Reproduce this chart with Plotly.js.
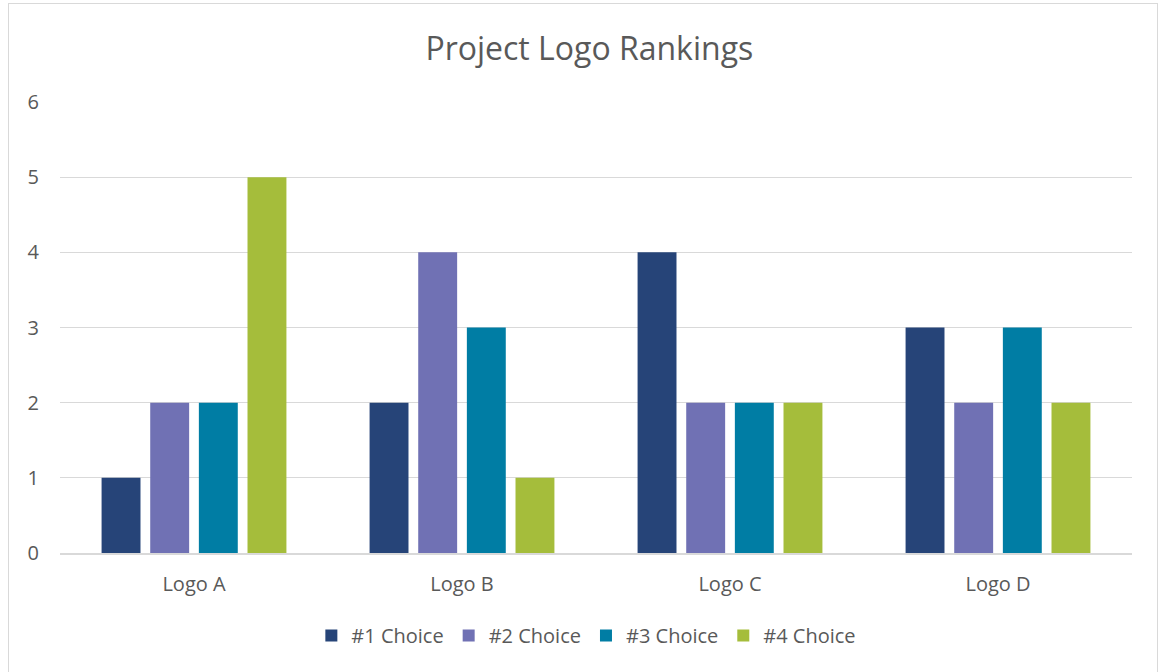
<!DOCTYPE html>
<html>
<head>
<meta charset="utf-8">
<script src="https://cdn.plot.ly/plotly-3.0.1.min.js"></script>
<style>
html,body{margin:0;padding:0;background:#fff;}
#wrap{position:relative;width:1167px;height:672px;}
#chart{width:1167px;height:672px;}
#frame{position:absolute;left:8px;top:3px;width:1150px;height:680px;border:1px solid #d9d9d9;pointer-events:none;box-sizing:border-box;}
</style>
</head>
<body>
<div id="wrap"><div id="chart"></div><div id="frame"></div></div>
<script>
const categories = ["Logo A", "Logo B", "Logo C", "Logo D"];
const seriesNames = ["#1 Choice", "#2 Choice", "#3 Choice", "#4 Choice"];
const choice1 = [1, 2, 4, 3];
const choice2 = [2, 4, 2, 2];
const choice3 = [2, 3, 2, 3];
const choice4 = [5, 1, 2, 2];
const colors = ["#264478", "#7071B4", "#007DA4", "#A5BD3B"];

const values = [choice1, choice2, choice3, choice4];
const traces = values.map((v, i) => ({
  type: "bar",
  name: seriesNames[i],
  x: categories,
  y: v,
  marker: {color: colors[i]},
  hoverinfo: "x+y+name"
}));

const font = "Open Sans, Liberation Sans, sans-serif";
const layout = {
  width: 1167, height: 672,
  margin: {l: 60, r: 35, t: 102, b: 119},
  paper_bgcolor: "#fff", plot_bgcolor: "#fff",
  title: {text: "Project Logo Rankings", font: {family: font, size: 32, color: "#595959"}, x: 0.505, xanchor: "center", y: 0.928, yanchor: "middle"},
  barmode: "group",
  bargap: 0.274,
  bargroupgap: 0.2,
  xaxis: {
    tickfont: {family: font, size: 20, color: "#595959"},
    showline: true, linecolor: "#d9d9d9", linewidth: 2,
    ticks: "", showgrid: false, fixedrange: true, ticklabelstandoff: 12
  },
  yaxis: {
    range: [0, 6], dtick: 1,
    tickfont: {family: font, size: 20, color: "#595959"},
    gridcolor: "#d9d9d9", gridwidth: 1.3,
    zeroline: false, showline: false, ticks: "", ticklabelstandoff: 20,
    fixedrange: true
  },
  legend: {
    orientation: "h", x: 0.491, xanchor: "center", y: -0.183, yanchor: "middle",
    font: {family: font, size: 20, color: "#595959"},
    itemwidth: 30, traceorder: "normal"
  },
  showlegend: true
};
Plotly.newPlot("chart", traces, layout, {displayModeBar: false, staticPlot: true});
</script>
</body>
</html>
